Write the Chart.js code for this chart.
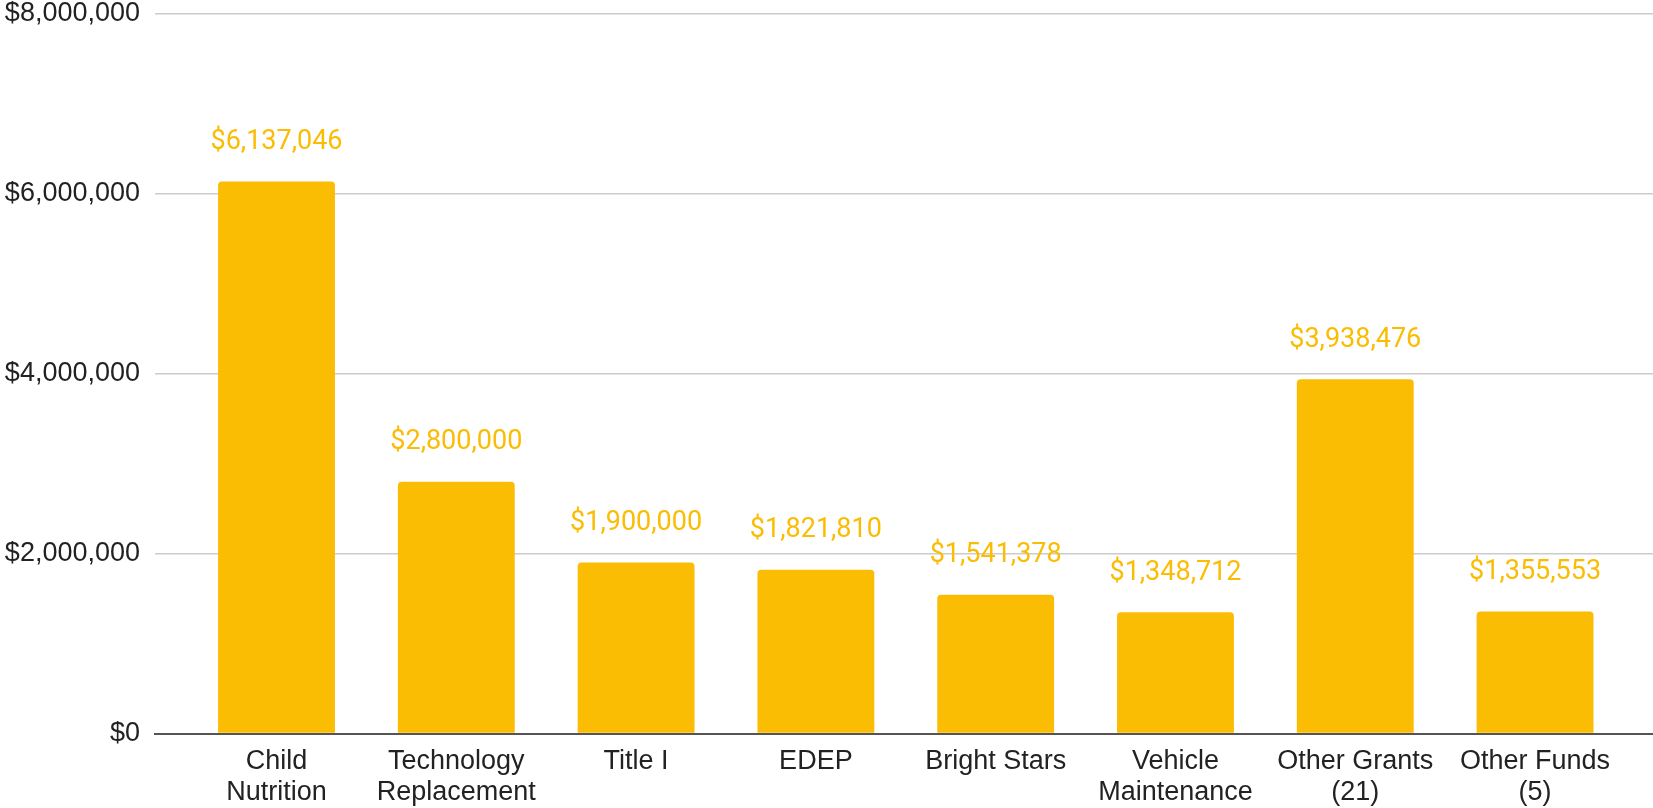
<!DOCTYPE html>
<html>
<head>
<meta charset="utf-8">
<script src="https://cdn.jsdelivr.net/npm/chart.js@4/dist/chart.umd.min.js"></script>
<style>
  html, body { margin: 0; padding: 0; background: #ffffff; }
  #wrap { position: relative; width: 1653px; height: 808px; }
</style>
</head>
<body>
<div id="wrap"><canvas id="chart"></canvas></div>
<script>
// Fund categories (multi-line tick labels) and their amounts in dollars
const categories = [
  ['Child', 'Nutrition'],
  ['Technology', 'Replacement'],
  'Title I',
  'EDEP',
  'Bright Stars',
  ['Vehicle', 'Maintenance'],
  ['Other Grants', '(21)'],
  ['Other Funds', '(5)']
];
const amounts = [6137046, 2800000, 1900000, 1821810, 1541378, 1348712, 3938476, 1355553];
const yTicks = [0, 2000000, 4000000, 6000000, 8000000];

const BAR_COLOR = '#FBBC04';
const money = v => '$' + Number(v).toLocaleString('en-US');

// Value labels above each bar, positioned from the bar elements
const valueLabels = {
  id: 'valueLabels',
  afterDatasetsDraw(chart) {
    const ctx = chart.ctx;
    const meta = chart.getDatasetMeta(0);
    ctx.save();
    ctx.font = '27px Roboto';
    ctx.fillStyle = BAR_COLOR;
    ctx.textAlign = 'center';
    ctx.textBaseline = 'alphabetic';
    meta.data.forEach((bar, i) => {
      ctx.fillText(money(amounts[i]), bar.x, bar.y - 32.5);
    });
    ctx.restore();
  }
};

new Chart(document.getElementById('chart'), {
  type: 'bar',
  data: {
    datasets: [{
      data: amounts.map((v, i) => ({ x: i, y: v })),
      backgroundColor: BAR_COLOR,
      borderRadius: 4,
      borderSkipped: 'start',
      barPercentage: 0.65,
      categoryPercentage: 1
    }]
  },
  options: {
    responsive: true,
    maintainAspectRatio: false,
    animation: false,
    devicePixelRatio: 1,
    layout: { padding: { top: 0, right: 0, bottom: 0, left: 0 } },
    plugins: {
      legend: { display: false },
      tooltip: { enabled: false }
    },
    scales: {
      x: {
        type: 'linear',
        offset: false,
        min: -0.6758,
        max: 7.656,
        grid: { display: false, drawTicks: false, offset: false },
        border: { display: true, color: '#555555', width: 2 },
        afterBuildTicks: scale => {
          scale.ticks = categories.map((_, i) => ({ value: i }));
        },
        afterFit: scale => { scale.height = 74.5; },
        ticks: {
          autoSkip: false,
          maxRotation: 0,
          padding: 13,
          color: '#222222',
          font: { family: 'Arial, "Liberation Sans", sans-serif', size: 27, lineHeight: 1.14 },
          callback: v => categories[v]
        }
      },
      y: {
        min: 0,
        max: 8000000,
        afterBuildTicks: scale => {
          scale.ticks = yTicks.map(v => ({ value: v }));
        },
        afterFit: scale => {
          scale.width = 155;
          scale.paddingTop = 14;
          scale.paddingBottom = 0;
        },
        grid: {
          drawTicks: false,
          color: ctx => (ctx.tick && ctx.tick.value === 0) ? 'rgba(0,0,0,0)' : '#cccccc',
          lineWidth: 1.6
        },
        border: { display: false },
        ticks: {
          padding: 15,
          color: '#222222',
          font: { family: 'Arial, "Liberation Sans", sans-serif', size: 27, lineHeight: 1 },
          callback: v => money(v)
        }
      }
    }
  },
  plugins: [valueLabels]
});
</script>
</body>
</html>
